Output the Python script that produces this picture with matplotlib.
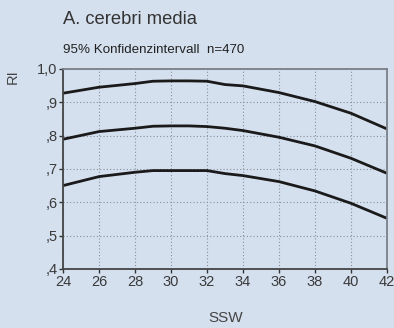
import matplotlib
matplotlib.use('Agg')
import matplotlib.pyplot as plt
from matplotlib.ticker import FixedLocator

# SSW vs. RI, A. cerebri media, 95% band plus mean
ssw = [24, 26, 28, 29, 30, 31, 32, 33, 34, 36, 38, 40, 42]
ri_upper = [0.927, 0.945, 0.956, 0.963, 0.964, 0.964, 0.963, 0.953, 0.949, 0.929, 0.902, 0.867, 0.820]
ri_mean = [0.789, 0.812, 0.822, 0.828, 0.829, 0.829, 0.827, 0.822, 0.815, 0.795, 0.769, 0.732, 0.687]
ri_lower = [0.650, 0.677, 0.690, 0.695, 0.695, 0.695, 0.695, 0.686, 0.680, 0.662, 0.634, 0.597, 0.552]

x_ticks = [24, 26, 28, 30, 32, 34, 36, 38, 40, 42]
y_ticks = [0.4, 0.5, 0.6, 0.7, 0.8, 0.9, 1.0]
y_labels = [',4', ',5', ',6', ',7', ',8', ',9', '1,0']

bg = '#d5e0ef'
plt.rcParams['font.family'] = ['Liberation Sans', 'DejaVu Sans']

fig = plt.figure(figsize=(3.94, 3.28), dpi=100, facecolor=bg)
ax = fig.add_axes([0.160, 0.180, 0.822, 0.610], facecolor=bg)

for ys in (ri_upper, ri_mean, ri_lower):
    ax.plot(ssw, ys, color='#1a1a1a', linewidth=2.0, solid_capstyle='butt')

ax.set_xlim(24, 42)
ax.set_ylim(0.4, 1.0)
ax.xaxis.set_major_locator(FixedLocator(x_ticks))
ax.set_xticklabels([str(v) for v in x_ticks])
ax.yaxis.set_major_locator(FixedLocator(y_ticks))
ax.set_yticklabels(y_labels)

ax.grid(True, color='#8a909a', linestyle=(0, (1, 2)), linewidth=0.8)
ax.tick_params(axis='both', length=3, width=1, color='#333333',
               labelsize=10.5, labelcolor='#3a3a3a', pad=1)

for side in ('left', 'bottom'):
    ax.spines[side].set_color('#444444')
    ax.spines[side].set_linewidth(1.3)
for side in ('top', 'right'):
    ax.spines[side].set_color('#7a808a')
    ax.spines[side].set_linewidth(1.3)

fig.text(63 / 394, 1 - 20 / 328, 'A. cerebri media', fontsize=13.2,
         color='#333333', va='center', ha='left')
fig.text(63 / 394, 1 - 50 / 328, '95% Konfidenzintervall  n=470', fontsize=9.6,
         color='#222222', va='center', ha='left')
fig.text(13 / 394, 1 - 77 / 328, 'RI', fontsize=10.5, color='#444444',
         rotation=90, va='center', ha='center')
fig.text(226 / 394, 1 - 318 / 328, 'SSW', fontsize=11, color='#444444',
         va='center', ha='center')

fig.savefig('out.png', dpi=100, facecolor=bg)
